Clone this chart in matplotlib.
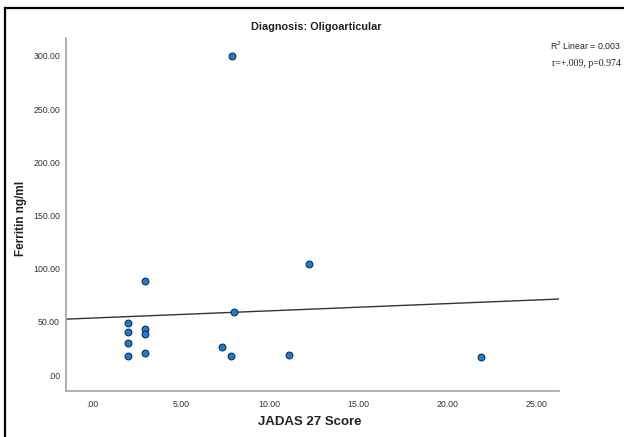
import numpy as np
import matplotlib
matplotlib.use("Agg")
import matplotlib.pyplot as plt
from matplotlib.lines import Line2D

# valeurs
jadas = [7.9, 3.0, 8.0, 12.2, 2.0, 2.0, 2.0, 2.0, 3.0, 3.0, 3.0, 7.3, 7.8, 11.1, 21.9]
ferritine = [300.0, 88.6, 59.0, 104.6, 48.9, 40.4, 29.8, 17.6, 43.5, 38.2, 20.4, 26.5, 17.7, 18.8, 16.8]
ordonnee_origine = 53.6
pente = 0.68

x_ticks = [0, 5, 10, 15, 20, 25]
y_ticks = [0, 50, 100, 150, 200, 250, 300]

police = ['Liberation Sans', 'DejaVu Sans']
W, H = 624, 437

fig = plt.figure(figsize=(6.24, 4.37), dpi=100)
ax = fig.add_axes([0.105, 0.106, 0.791, 0.807])

ax.set_xlim(-1.49, 26.29)
ax.set_ylim(-14.6, 316.7)

xl = np.array(ax.get_xlim())
ax.plot(xl, ordonnee_origine + pente * xl, color='#333333', lw=1.0, zorder=2)
ax.scatter(jadas, ferritine, s=24, color='#1a7fd4', edgecolors='#1b2f4a', linewidths=0.8, zorder=3)

ax.set_xticks(x_ticks)
ax.set_xticklabels(['.00' if v == 0 else '%.2f' % v for v in x_ticks], family=police, fontsize=6.3, color='#333333')
ax.set_yticks(y_ticks)
ax.set_yticklabels(['.00' if v == 0 else '%.2f' % v for v in y_ticks], family=police, fontsize=6.3, color='#333333')
ax.tick_params(length=0, pad=4)
ax.tick_params(axis='x', pad=7)

for s in ['top', 'right']:
    ax.spines[s].set_visible(False)
for s in ['left', 'bottom']:
    ax.spines[s].set_color('#aaaaaa')
    ax.spines[s].set_linewidth(1.3)

fig.text(316/W, 1 - 27/H, 'Diagnosis: Oligoarticular', family=police, fontsize=7.8,
         fontweight='bold', ha='center', va='center', color='#222222')
fig.text(310/W, 1 - 422/H, 'JADAS 27 Score', family=police, fontsize=9.5,
         fontweight='bold', ha='center', va='center', color='#222222')
fig.text(21/W, 1 - 218/H, 'Ferritin ng/ml', family=police, fontsize=8.5, fontweight='bold',
         ha='center', va='center', rotation=90, color='#222222')

fig.text(621/W, 1 - 46/H, r'R$^2$ Linear = 0.003', family=police, fontsize=6.3, ha='right', va='center', color='#222222')
fig.text(621/W, 1 - 63/H, 'r=+.009, p=0.974', family=['Liberation Serif', 'DejaVu Serif'], fontsize=7,
         ha='right', va='center', color='#222222')

# cadre noir (gauche et haut)
fig.add_artist(Line2D([5/W, 5/W], [0, 1 - 8/H], transform=fig.transFigure, color='black', lw=1.6))
fig.add_artist(Line2D([5/W, 1], [1 - 8/H, 1 - 8/H], transform=fig.transFigure, color='black', lw=1.6))

fig.savefig('out.png', dpi=100)
